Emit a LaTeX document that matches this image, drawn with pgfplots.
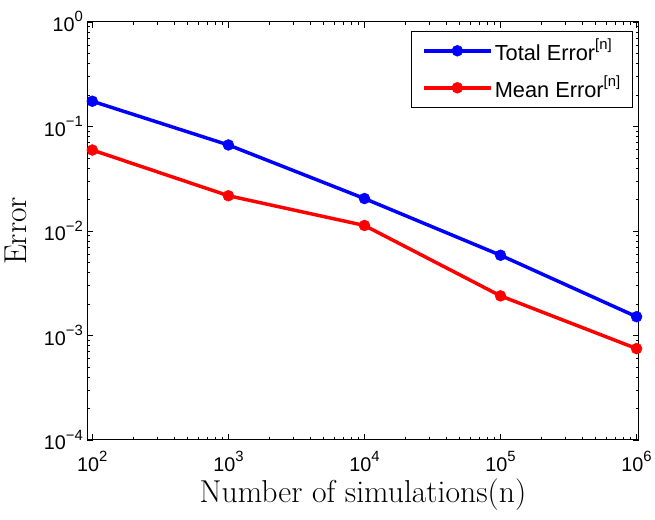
\documentclass[border=0pt]{standalone}
\usepackage{fontspec}
\usepackage{pgfplots}
\pgfplotsset{compat=1.18}
\newfontfamily\helv{Liberation Sans}
\newcommand{\up}[1]{\raisebox{0.5em}{\fontsize{15}{15}\selectfont #1}}

\begin{document}
\begin{tikzpicture}
\begin{loglogaxis}[
  scale only axis,
  width=555bp, height=421bp,
  xmin=92, xmax=1.034e6,
  ymin=1e-4, ymax=1,
  tick align=inside,
  major tick length=6bp,
  minor tick length=3bp,
  xtick={1e2,1e3,1e4,1e5,1e6},
  xticklabels={10\up{2},10\up{3},10\up{4},10\up{5},10\up{6}},
  ytick={1e-4,1e-3,1e-2,1e-1,1},
  yticklabels={10\up{−4},10\up{−3},10\up{−2},10\up{−1},10\up{0}},
  tick label style={font=\helv\fontsize{20}{22}\selectfont},
  xticklabel style={anchor=base, yshift=-32bp},
  yticklabel style={xshift=-1bp},
  xlabel={Number of simulations(n)},
  ylabel={Error},
  label style={font=\fontsize{32}{34}\selectfont},
  xlabel style={at={(axis description cs:0.5,0)}, anchor=base, yshift=-63bp},
  ylabel style={at={(axis description cs:-0.110,0.5)}, anchor=base},
  axis line style={line width=1bp},
  every tick/.style={black, line width=0.6bp},
  legend style={at={(1,1)}, anchor=north east, xshift=-6bp, yshift=-9bp,
    font=\helv\fontsize{22}{24}\selectfont, draw=black, line width=1bp,
    inner xsep=10bp, inner ysep=6bp, row sep=10bp},
  legend cell align=left,
  legend image code/.code={
    \draw[mark repeat=2, mark phase=2] plot coordinates {(0bp,0bp) (34bp,0bp) (68bp,0bp)};
  },
]
\addplot[blue, line width=3.5bp, mark=*, mark size=5.5bp, mark options={line width=0.5bp}]
  coordinates {(1e2,0.174) (1e3,0.0664) (1e4,0.0204) (1e5,0.00585) (1e6,0.00151)};
\addlegendentry{Total Error\up{[n]}}
\addplot[red, line width=3.5bp, mark=*, mark size=5.5bp, mark options={line width=0.5bp}]
  coordinates {(1e2,0.0594) (1e3,0.0217) (1e4,0.01127) (1e5,0.00239) (1e6,0.000748)};
\addlegendentry{Mean Error\up{[n]}}
\end{loglogaxis}
\useasboundingbox ([shift={(-88bp,-80bp)}]current axis.south west) rectangle ([shift={(12bp,22bp)}]current axis.north east);
\end{tikzpicture}
\end{document}
